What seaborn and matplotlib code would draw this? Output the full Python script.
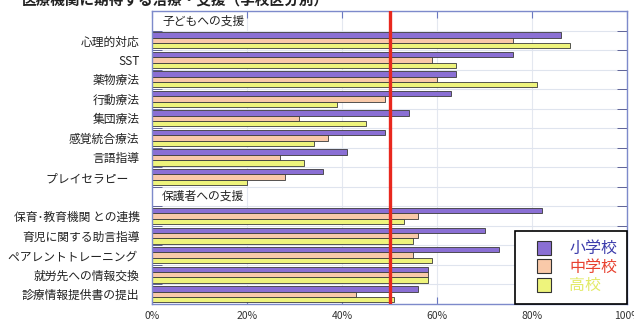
import matplotlib
matplotlib.use("Agg")
import matplotlib.pyplot as plt
from matplotlib.lines import Line2D
import numpy as np
import pandas as pd
import seaborn as sns

# data
title = "医療機関に期待する治療・支援（学校区分別）"
child_header = "子どもへの支援"
parent_header = "保護者への支援"
child_items = ["心理的対応", "SST", "薬物療法", "行動療法", "集団療法",
               "感覚統合療法", "言語指導", "プレイセラピー　"]
parent_items = ["保育･教育機関 との連携", "育児に関する助言指導", "ペアレントトレーニング ",
                "就労先への情報交換", "診療情報提供書の提出"]
schools = ["小学校", "中学校", "高校"]
elementary = [86, 76, 64, 63, 54, 49, 41, 36, 82, 70, 73, 58, 56]
junior = [76, 59, 60, 49, 31, 37, 27, 28, 56, 56, 55, 58, 43]
high = [88, 64, 81, 39, 45, 34, 32, 20, 53, 55, 59, 58, 51]
x_ticks = [0, 20, 40, 60, 80, 100]

bar_colors = ["#8a6fd4", "#f9c9a9", "#eef47c"]
text_colors = ["#3b3bab", "#e8402e", "#e2ea66"]

items = child_items + parent_items
df = pd.DataFrame({
    "item": items * 3,
    "school": np.repeat(schools, len(items)),
    "rate": elementary + junior + high,
})
order = [child_header] + child_items + [parent_header] + parent_items

sns.set_style("white")
plt.rcParams['font.family'] = ['Noto Sans CJK JP', 'DejaVu Sans']

fig = plt.figure(figsize=(6.34, 3.2), dpi=100)
ax = fig.add_axes([152 / 634, 16 / 320, 475 / 634, 293 / 320])

sns.barplot(data=df, x="rate", y="item", hue="school", order=order,
            hue_order=schools, palette=bar_colors, orient="h", width=0.82,
            edgecolor="#3a3a3a", linewidth=0.6, saturation=1,
            errorbar=None, legend=False, ax=ax)

ax.set_xlim(0, 100)
ax.set_ylim(len(order) - 0.5, -0.5)
ax.set_xticks(x_ticks)
ax.set_xticklabels([f"{v}%" for v in x_ticks])
ax.set_yticks(range(len(order)))
ax.set_yticklabels(["" if o in (child_header, parent_header) else o for o in order])
ax.set_yticks(np.arange(-0.5, len(order), 1), minor=True)
ax.set_xlabel("")
ax.set_ylabel("")

# section headers inside the plot
for h in (child_header, parent_header):
    ax.text(2.1, order.index(h), h, va="center", ha="left", fontsize=8.5, color="#222")

# 50% reference line
ax.axvline(50, color="#e8281e", lw=2.4, zorder=5)

ax.tick_params(axis="x", which="major", direction="in", length=5, top=True,
               bottom=True, color="#6a78c0", labelsize=7.5, pad=5, labelcolor="#333")
ax.tick_params(axis="y", which="major", length=0, labelsize=8.5, pad=9, labelcolor="#222")
ax.tick_params(axis="y", which="minor", direction="in", length=7, left=True,
               right=True, color="#4a4f8a")
for s in ax.spines.values():
    s.set_color("#7d8acb")
    s.set_linewidth(1)

ax.grid(axis="y", which="minor", color="#dfe4ee", lw=0.8)
ax.grid(axis="x", which="major", color="#e4e8f0", lw=0.8)
ax.set_axisbelow(True)

# legend
handles = [Line2D([], [], marker="s", ls="none", markersize=10.5, markerfacecolor=c,
                  markeredgecolor="#333", markeredgewidth=0.8) for c in bar_colors]
leg = ax.legend(handles, schools, loc="lower right", borderaxespad=0, fontsize=11.5,
                handlelength=2.4, handletextpad=0.4, borderpad=0.6, labelspacing=0.1,
                frameon=True, fancybox=False, edgecolor="black", framealpha=1)
leg.get_frame().set_linewidth(1.2)
for t, c in zip(leg.get_texts(), text_colors):
    t.set_color(c)

fig.text(0.035, 1.0, title, fontsize=10.5, fontweight="bold", va="center", color="#222")

fig.savefig("out.png", dpi=100)
plt.close()
